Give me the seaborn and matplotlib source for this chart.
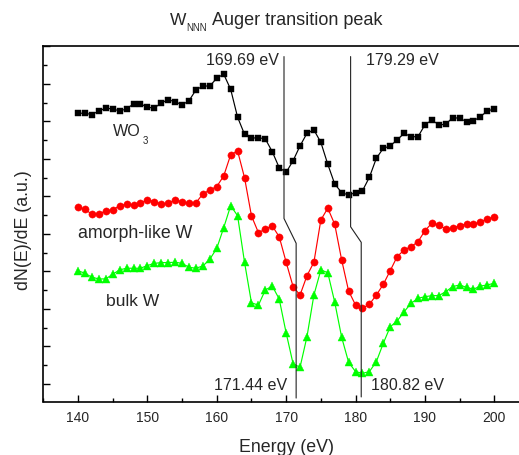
import matplotlib
matplotlib.use("Agg")
import matplotlib.pyplot as plt
import seaborn as sns
import pandas as pd
from matplotlib.ticker import MultipleLocator, NullFormatter

# ---------------- data ----------------
energy = list(range(140, 201))

wo3 = [14.43, 14.43, 14.36, 14.55, 14.70, 14.66, 14.55, 14.66, 14.93, 14.93,
       14.75, 14.70, 14.99, 15.14, 15.05, 14.87, 15.10, 15.67, 15.88, 15.88,
       16.30, 16.51, 15.71, 14.22, 13.31, 13.10, 13.13, 13.06, 12.38, 11.53,
       11.28, 11.90, 12.69, 13.36, 13.54, 12.88, 11.71, 10.66, 10.20, 10.07,
       10.20, 10.30, 11.02, 12.03, 12.56, 12.69, 13.01, 13.36, 13.18, 13.18,
       13.81, 14.07, 13.81, 13.84, 14.20, 14.16, 13.98, 14.02, 14.25, 14.55,
       14.66]

amorph_w = [9.42, 9.31, 9.05, 9.06, 9.22, 9.28, 9.50, 9.58, 9.54, 9.63,
            9.81, 9.72, 9.59, 9.63, 9.79, 9.72, 9.63, 9.66, 10.13, 10.34,
            10.52, 11.09, 12.21, 12.42, 11.00, 8.96, 8.07, 8.25, 8.42, 7.85,
            6.49, 5.19, 4.74, 5.77, 6.49, 8.74, 9.37, 8.51, 6.61, 4.96,
            4.21, 4.04, 4.25, 4.74, 5.31, 6.04, 6.79, 7.14, 7.32, 7.58,
            8.17, 8.57, 8.48, 8.26, 8.30, 8.44, 8.53, 8.53, 8.62, 8.80,
            8.89]

bulk_w = [6.04, 5.90, 5.69, 5.60, 5.60, 5.85, 6.08, 6.17, 6.17, 6.17,
          6.31, 6.43, 6.47, 6.47, 6.49, 6.43, 6.22, 6.17, 6.29, 6.65,
          7.23, 8.33, 9.50, 8.97, 6.49, 4.33, 4.20, 5.01, 5.22, 4.53,
          2.72, 1.08, 0.89, 2.52, 4.74, 6.08, 5.93, 4.36, 2.49, 1.16,
          0.66, 0.57, 0.66, 1.19, 2.17, 3.05, 3.36, 3.85, 4.30, 4.57,
          4.65, 4.71, 4.71, 4.92, 5.19, 5.28, 5.15, 5.05, 5.22, 5.28,
          5.37]

series_colors = ["#000000", "#ff0000", "#00ff00"]
series_markers = ["s", "o", "^"]

peaks_top = [169.69, 179.29]
peaks_bottom = [171.44, 180.82]

xlabel_text = "Energy (eV)"
ylabel_text = "dN(E)/dE (a.u.)"

# ---------------- style ----------------
sns.set_style("ticks")
plt.rcParams["font.family"] = ["Liberation Sans", "DejaVu Sans"]

fig = plt.figure(figsize=(5.19, 4.55), dpi=100)
W, H = 519, 455
ax_left, ax_right_px = 43.3, 529.0
ax_top, ax_bot = 45.5, 401.5
ax = fig.add_axes([ax_left / W, (H - ax_bot) / H,
                   (ax_right_px - ax_left) / W, (ax_bot - ax_top) / H])

df = pd.DataFrame({"Energy": energy, "WO3": wo3, "amorph": amorph_w, "bulk": bulk_w})
msizes = [4.4, 5.2, 5.4]
for col, c, m, ms in zip(["WO3", "amorph", "bulk"], series_colors, series_markers, msizes):
    sns.lineplot(data=df, x="Energy", y=col, color=c, marker=m, markersize=ms,
                 markeredgecolor=c, markeredgewidth=0.3, linewidth=0.85, ax=ax)

# annotation lines (vertical lines with a kink)
for xt, xb, k1, k2, yb in zip(peaks_top, peaks_bottom, [8.82, 8.38], [7.50, 7.55], [-0.75, -0.69]):
    ax.plot([xt, xt, xb, xb], [17.45, k1, k2, yb], color="#222222", linewidth=0.8)

ax.text(168.9, 17.0, f"{peaks_top[0]:.2f} eV", ha="right", va="baseline", fontsize=11.5)
ax.text(181.5, 17.0, f"{peaks_top[1]:.2f} eV", ha="left", va="baseline", fontsize=11.5)
ax.text(170.07, -0.32, f"{peaks_bottom[0]:.2f} eV", ha="right", va="baseline", fontsize=11.5)
ax.text(182.24, -0.32, f"{peaks_bottom[1]:.2f} eV", ha="left", va="baseline", fontsize=11.5)

# series labels
ax.text(145.0, 13.22, "WO", ha="left", va="baseline", fontsize=11.6)
ax.text(149.29, 12.78, "3", ha="left", va="baseline", fontsize=7)
ax.text(140.0, 7.77, "amorph-like W", ha="left", va="baseline", fontsize=12.8)
ax.text(144.1, 4.16, "bulk W", ha="left", va="baseline", fontsize=12.6)

ax.set_xlim(135, 205)
ax.set_ylim(-0.933, 18.04)
ax.xaxis.set_major_locator(MultipleLocator(10))
ax.xaxis.set_minor_locator(MultipleLocator(5))
ax.yaxis.set_major_locator(MultipleLocator(2))
ax.yaxis.set_minor_locator(MultipleLocator(1))
ax.yaxis.set_major_formatter(NullFormatter())
ax.tick_params(which="both", direction="in", color="black", width=1.0)
ax.tick_params(which="major", length=5)
ax.tick_params(which="minor", length=2.6)
ax.tick_params(axis="x", which="major", labelsize=10, pad=7)
for s in ["left", "bottom", "top"]:
    ax.spines[s].set_visible(True)
    ax.spines[s].set_linewidth(1.2)
    ax.spines[s].set_color("black")
ax.spines["right"].set_visible(False)

ax.set_xlabel(xlabel_text, fontsize=12.8)
ax.xaxis.set_label_coords(0.5, -0.104)
ax.set_ylabel(ylabel_text, fontsize=12.8)
ax.yaxis.set_label_coords(-0.024, 0.482)

# title: W with subscript NNN
fig.text(170 / W, 1 - 25 / H, "W", ha="left", va="baseline", fontsize=12.5)
fig.text(186.7 / W, 1 - 31.2 / H, "NNN", ha="left", va="baseline", fontsize=7)
fig.text(211.7 / W, 1 - 25 / H, "Auger transition peak", ha="left", va="baseline", fontsize=13)

fig.savefig("out.png", dpi=100)
